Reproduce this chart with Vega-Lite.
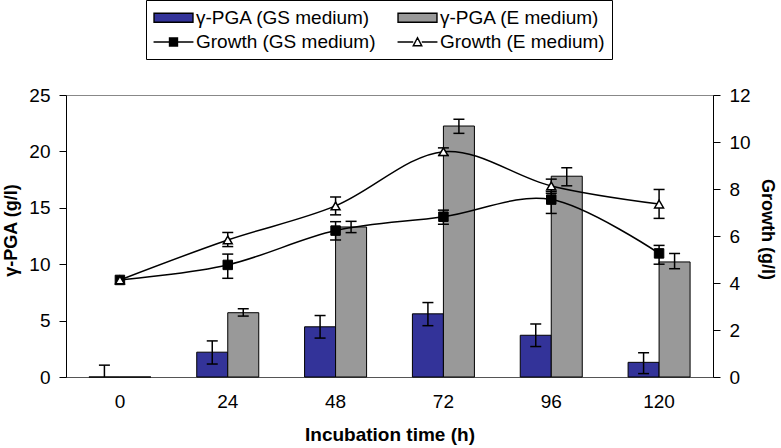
{
  "$schema": "https://vega.github.io/schema/vega-lite/v6.json",
  "width": 647,
  "height": 282,
  "autosize": {"type": "none"},
  "padding": {"left": 66, "top": 95, "right": 68, "bottom": 71},
  "background": "white",
  "data": {
    "values": [
      {"kind": "pga", "series": "γ-PGA (GS medium)", "time": 0, "value": 0, "lo": -1, "hi": 1.05},
      {"kind": "pga", "series": "γ-PGA (GS medium)", "time": 24, "value": 2.2, "lo": 1.15, "hi": 3.2},
      {"kind": "pga", "series": "γ-PGA (GS medium)", "time": 48, "value": 4.45, "lo": 3.45, "hi": 5.45},
      {"kind": "pga", "series": "γ-PGA (GS medium)", "time": 72, "value": 5.6, "lo": 4.55, "hi": 6.6},
      {"kind": "pga", "series": "γ-PGA (GS medium)", "time": 96, "value": 3.7, "lo": 2.7, "hi": 4.7},
      {"kind": "pga", "series": "γ-PGA (GS medium)", "time": 120, "value": 1.3, "lo": 0.3, "hi": 2.15},
      {"kind": "pga", "series": "γ-PGA (E medium)", "time": 0, "value": 0, "lo": null, "hi": null},
      {"kind": "pga", "series": "γ-PGA (E medium)", "time": 24, "value": 5.7, "lo": 5.4, "hi": 6.05},
      {"kind": "pga", "series": "γ-PGA (E medium)", "time": 48, "value": 13.3, "lo": 12.8, "hi": 13.8},
      {"kind": "pga", "series": "γ-PGA (E medium)", "time": 72, "value": 22.25, "lo": 21.6, "hi": 22.85},
      {"kind": "pga", "series": "γ-PGA (E medium)", "time": 96, "value": 17.8, "lo": 16.95, "hi": 18.55},
      {"kind": "pga", "series": "γ-PGA (E medium)", "time": 120, "value": 10.2, "lo": 9.6, "hi": 10.95},
      {"kind": "growth", "series": "Growth (GS medium)", "time": 0, "value": 4.13, "lo": null, "hi": null},
      {"kind": "growth", "series": "Growth (GS medium)", "time": 24, "value": 4.77, "lo": 4.2, "hi": 5.23},
      {"kind": "growth", "series": "Growth (GS medium)", "time": 48, "value": 6.23, "lo": 5.83, "hi": 6.61},
      {"kind": "growth", "series": "Growth (GS medium)", "time": 72, "value": 6.82, "lo": 6.5, "hi": 7.1},
      {"kind": "growth", "series": "Growth (GS medium)", "time": 96, "value": 7.55, "lo": 6.96, "hi": 7.9},
      {"kind": "growth", "series": "Growth (GS medium)", "time": 120, "value": 5.26, "lo": 4.8, "hi": 5.6},
      {"kind": "growth", "series": "Growth (E medium)", "time": 0, "value": 4.13, "lo": null, "hi": null},
      {"kind": "growth", "series": "Growth (E medium)", "time": 24, "value": 5.83, "lo": 5.55, "hi": 6.15},
      {"kind": "growth", "series": "Growth (E medium)", "time": 48, "value": 7.28, "lo": 6.9, "hi": 7.66},
      {"kind": "growth", "series": "Growth (E medium)", "time": 72, "value": 9.59, "lo": 9.43, "hi": 9.75},
      {"kind": "growth", "series": "Growth (E medium)", "time": 96, "value": 8.13, "lo": 7.82, "hi": 8.42},
      {"kind": "growth", "series": "Growth (E medium)", "time": 120, "value": 7.36, "lo": 6.75, "hi": 7.98}
    ]
  },
  "encoding": {
    "x": {
      "field": "time",
      "type": "ordinal",
      "scale": {"paddingInner": 0.425, "paddingOuter": 0.2125},
      "axis": {
        "title": "Incubation time (h)",
        "labelAngle": 0,
        "ticks": false,
        "labelPadding": 15,
        "labelDx": -5,
        "labelFont": "Liberation Sans",
        "labelFontSize": 19,
        "labelColor": "black",
        "domainColor": "#555555",
        "titleFont": "Liberation Sans",
        "titleFontSize": 19,
        "titleFontWeight": "bold",
        "titleColor": "black",
        "titleY": 48,
        "titleBaseline": "top"
      }
    }
  },
  "layer": [
    {
      "transform": [{"filter": "datum.kind === 'pga'"}],
      "encoding": {
        "xOffset": {
          "field": "series",
          "scale": {"domain": ["γ-PGA (GS medium)", "γ-PGA (E medium)"], "paddingInner": 0, "paddingOuter": 0}
        },
        "y": {
          "field": "value",
          "type": "quantitative",
          "title": "γ-PGA (g/l)",
          "scale": {"domain": [0, 25], "nice": false},
          "axis": {
            "orient": "left",
            "values": [0, 5, 10, 15, 20, 25],
            "grid": false,
            "tickSize": 7,
            "labelPadding": 9,
            "labelFont": "Liberation Sans",
            "labelFontSize": 19,
            "labelColor": "black",
            "domainColor": "black",
            "tickColor": "black",
            "title": "γ-PGA (g/l)",
            "titleFont": "Liberation Sans",
            "titleFontSize": 18,
            "titleFontWeight": "bold",
            "titleColor": "black",
            "titleX": -55,
            "titleY": 135,
            "titleAngle": -90,
            "titleAlign": "center",
            "titleBaseline": "middle"
          }
        }
      },
      "layer": [
        {
          "mark": {"type": "bar", "stroke": "black", "strokeWidth": 1},
          "encoding": {
            "fill": {
              "field": "series",
              "type": "nominal",
              "scale": {
                "domain": ["γ-PGA (GS medium)", "γ-PGA (E medium)", "Growth (GS medium)", "Growth (E medium)"],
                "range": ["#333399", "#999999", "#000000", "#ffffff"]
              },
              "legend": {
                "title": null,
                "direction": "horizontal",
                "columns": 2,
                "encode": {"symbols": {"update": {"stroke": {"value": "black"}, "strokeWidth": {"value": 1.4}}}}
              }
            }
          }
        },
        {
          "mark": {"type": "rule", "color": "black", "strokeWidth": 1.5, "clip": true},
          "encoding": {
            "y": {"field": "lo", "type": "quantitative", "title": "γ-PGA (g/l)"},
            "y2": {"field": "hi"}
          }
        },
        {
          "mark": {"type": "point", "shape": "M-1,0H1", "size": 121, "stroke": "black", "strokeWidth": 1.5, "fill": null, "filled": false, "opacity": 1, "clip": true},
          "encoding": {"y": {"field": "lo", "type": "quantitative", "title": "γ-PGA (g/l)"}}
        },
        {
          "mark": {"type": "point", "shape": "M-1,0H1", "size": 121, "stroke": "black", "strokeWidth": 1.5, "fill": null, "filled": false, "opacity": 1, "clip": true},
          "encoding": {"y": {"field": "hi", "type": "quantitative", "title": "γ-PGA (g/l)"}}
        }
      ]
    },
    {
      "transform": [{"filter": "datum.kind === 'growth'"}],
      "encoding": {
        "y": {
          "field": "value",
          "type": "quantitative",
          "title": "Growth (g/l)",
          "scale": {"domain": [0, 12], "nice": false},
          "axis": {
            "orient": "right",
            "values": [0, 2, 4, 6, 8, 10, 12],
            "grid": false,
            "tickSize": 7,
            "labelPadding": 9,
            "labelFont": "Liberation Sans",
            "labelFontSize": 19,
            "labelColor": "black",
            "domainColor": "black",
            "tickColor": "black",
            "title": "Growth (g/l)",
            "titleFont": "Liberation Sans",
            "titleFontSize": 18,
            "titleFontWeight": "bold",
            "titleColor": "black",
            "titleX": 53,
            "titleY": 134,
            "titleAngle": 90,
            "titleAlign": "center",
            "titleBaseline": "middle"
          }
        }
      },
      "layer": [
        {
          "mark": {"type": "line", "color": "black", "strokeWidth": 1.5, "interpolate": "cardinal"},
          "encoding": {"detail": {"field": "series"}}
        },
        {
          "mark": {"type": "rule", "color": "black", "strokeWidth": 1.5},
          "encoding": {
            "y": {"field": "lo", "type": "quantitative", "title": "Growth (g/l)"},
            "y2": {"field": "hi"}
          }
        },
        {
          "mark": {"type": "point", "shape": "M-1,0H1", "size": 121, "stroke": "black", "strokeWidth": 1.5, "fill": null, "filled": false, "opacity": 1},
          "encoding": {"y": {"field": "lo", "type": "quantitative", "title": "Growth (g/l)"}}
        },
        {
          "mark": {"type": "point", "shape": "M-1,0H1", "size": 121, "stroke": "black", "strokeWidth": 1.5, "fill": null, "filled": false, "opacity": 1},
          "encoding": {"y": {"field": "hi", "type": "quantitative", "title": "Growth (g/l)"}}
        },
        {
          "transform": [{"filter": "datum.series === 'Growth (GS medium)'"}],
          "mark": {"type": "point", "shape": "square", "size": 90, "filled": true, "fill": "black", "stroke": "black", "strokeWidth": 1, "opacity": 1}
        },
        {
          "transform": [{"filter": "datum.series === 'Growth (E medium)'"}],
          "mark": {"type": "point", "shape": "triangle-up", "size": 80, "filled": true, "fill": "white", "stroke": "black", "strokeWidth": 1.5, "opacity": 1}
        },
        {
          "transform": [{"filter": "false"}],
          "mark": {"type": "point", "filled": true, "opacity": 1},
          "encoding": {
            "fill": {
              "field": "series",
              "type": "nominal",
              "legend": {
                "title": null,
                "direction": "horizontal",
                "columns": 2,
                "encode": {"symbols": {"update": {"stroke": {"value": "black"}, "strokeWidth": {"value": 1.4}}}}
              }
            },
            "shape": {
              "field": "series",
              "type": "nominal",
              "scale": {
                "domain": ["γ-PGA (GS medium)", "γ-PGA (E medium)", "Growth (GS medium)", "Growth (E medium)"],
                "range": [
                  "M-2.05,-0.47H2.05V0.47H-2.05Z",
                  "M-2.05,-0.47H2.05V0.47H-2.05Z",
                  "M-2.1,0H2.1M-0.42,-0.42H0.42V0.42H-0.42Z",
                  "M-2.1,0H-0.45M0.45,0H2.1M-0.45,0.4L0,-0.45L0.45,0.4Z"
                ]
              },
              "legend": {
                "title": null,
                "direction": "horizontal",
                "columns": 2,
                "encode": {"symbols": {"update": {"stroke": {"value": "black"}, "strokeWidth": {"value": 1.4}}}}
              }
            }
          }
        }
      ]
    }
  ],
  "resolve": {"scale": {"y": "independent"}},
  "config": {
    "font": "Liberation Sans",
    "view": {"stroke": "#888888", "strokeWidth": 1},
    "legend": {
      "orient": "none",
      "legendX": 80,
      "legendY": -95,
      "direction": "horizontal",
      "columns": 2,
      "padding": 7,
      "strokeColor": "black",
      "fillColor": "white",
      "labelFont": "Liberation Sans",
      "labelFontSize": 19,
      "labelColor": "black",
      "labelLimit": 400,
      "symbolSize": 361,
      "symbolOffset": 10,
      "labelOffset": 12,
      "columnPadding": 18,
      "rowPadding": 3.5,
      "symbolStrokeColor": "black",
      "symbolStrokeWidth": 1.4,
      "symbolOpacity": 1
    }
  }
}
